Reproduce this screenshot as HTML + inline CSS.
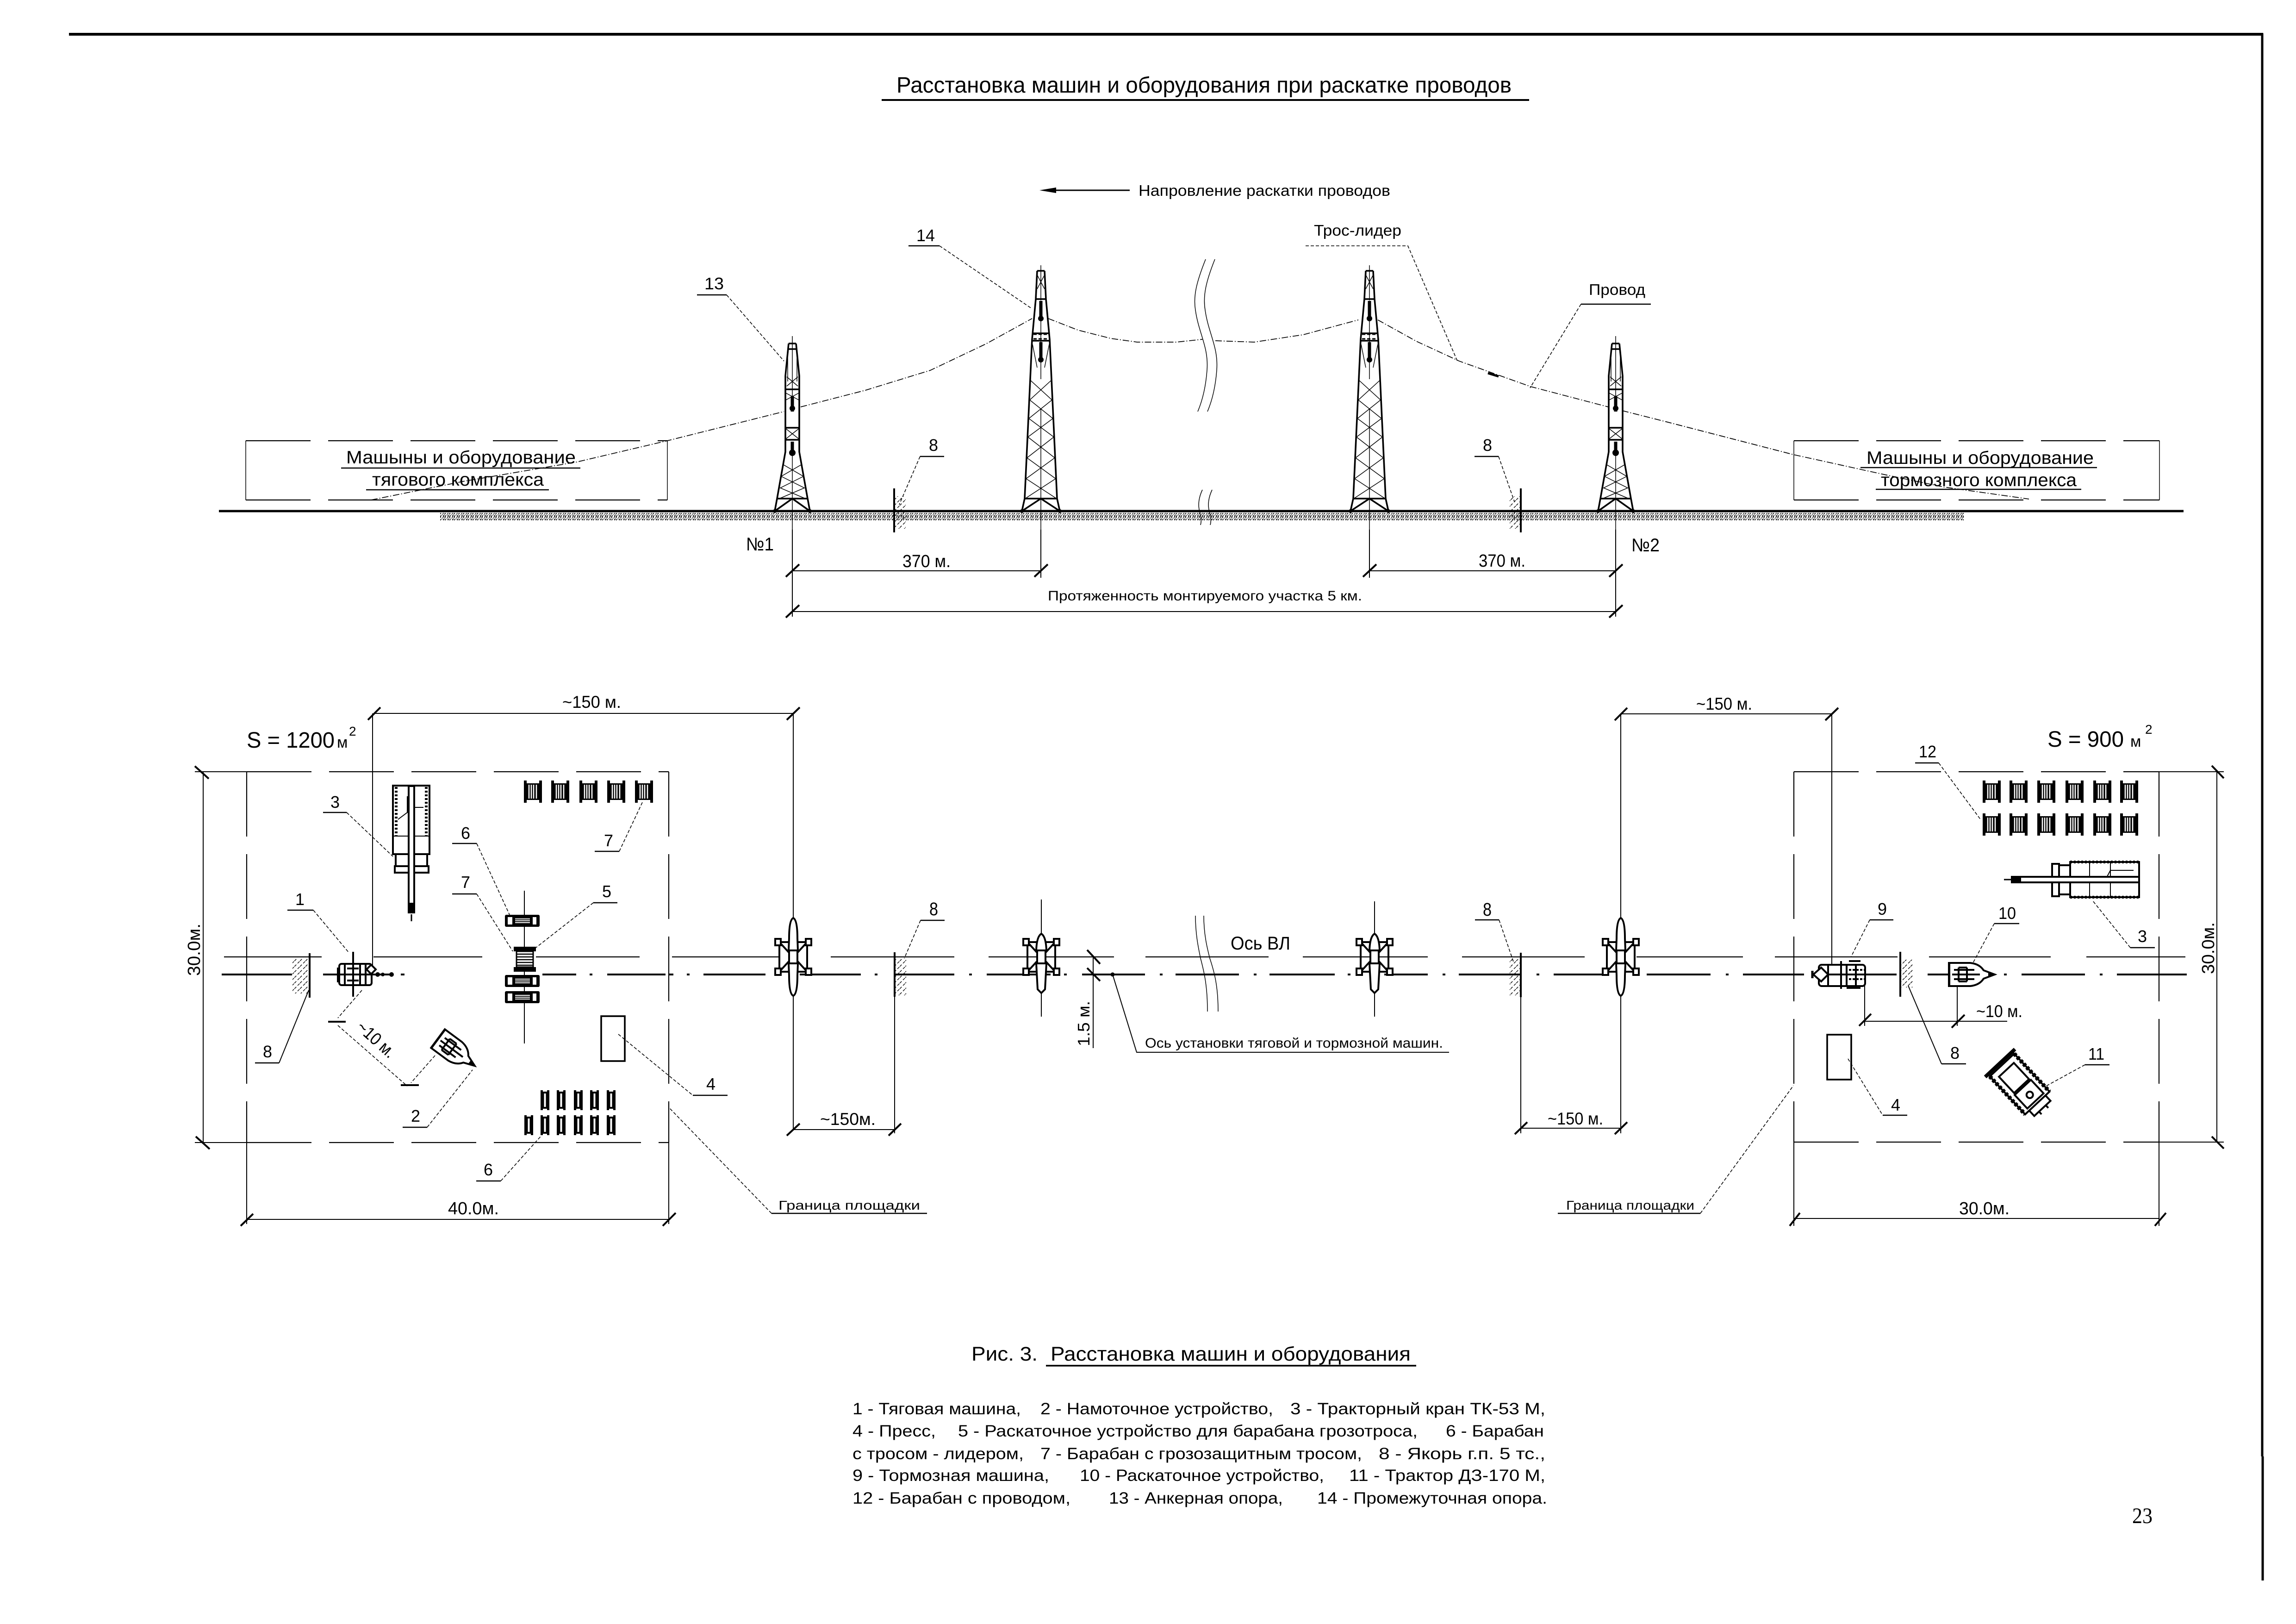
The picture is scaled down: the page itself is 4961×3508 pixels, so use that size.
<!DOCTYPE html>
<html lang="ru"><head><meta charset="utf-8"><title>Расстановка машин и оборудования</title>
<style>
html,body{margin:0;padding:0;background:#fff}
svg{display:block}
text{font-family:"Liberation Sans",sans-serif;fill:#000}
.ld{stroke:#000;stroke-width:1.6;fill:none;stroke-dasharray:7 4}
.u{stroke:#000;stroke-width:2.4;fill:none}
.d{stroke:#000;stroke-width:2;fill:none}
.k{stroke:#000;stroke-width:4;fill:none}
.b{stroke:#000;stroke-width:3.6;fill:none}
.w{stroke:#000;stroke-width:1.7;fill:none;stroke-dasharray:14 4 2 4;stroke-linejoin:round}
.bx{stroke:#000;stroke-width:2.2;fill:none;stroke-dasharray:140 38}
.m{stroke:#000;stroke-width:4;fill:#fff}
.th{stroke:#000;stroke-width:1.5;fill:none}
</style></head><body>
<svg xmlns="http://www.w3.org/2000/svg" width="4961" height="3508" viewBox="0 0 4961 3508">
<defs>
<pattern id="gr" width="10" height="8" patternUnits="userSpaceOnUse"><path d="M0,8 L4,0 M6,8 L10,0 M1,2 L3,6 M7,1 L9,5" stroke="#000" stroke-width="1.2"/></pattern>
<pattern id="ha" width="12" height="12" patternUnits="userSpaceOnUse"><path d="M0,12 L12,0" stroke="#000" stroke-width="1.4" stroke-dasharray="6 4"/></pattern>
<g id="t13">
<path class="b" d="M-8,-362 L-15,-292 L-15,-128 L-33,-27 L-38,0 M8,-362 L15,-292 L15,-128 L33,-27 L38,0 M-8,-362 H8 M-8,-350 H8 M-33,-27 H33 M-38,0 L0,-27 L38,0 M-15,-263 H15 M-15,-180 H15 M-15,-154 H15"/>
<path class="th" d="M0,-378 V-245 M0,-120 V40 M-14,-255 L14,-240 M14,-255 L-14,-240 M-14,-178 L14,-156 M14,-178 L-14,-156 M-15,-128 L-19,-100 L24,-75 L-26,-50 L28,-27 M15,-128 L19,-100 L-24,-75 L26,-50 L-28,-27 M-10,-330 V-280 M10,-330 V-280 M-12,-290 L12,-270 M-12,-270 L12,-290"/>
<path d="M0,-248 V-215 M0,-150 V-120" stroke="#000" stroke-width="7"/><circle cy="-222" r="6"/><circle cy="-126" r="7"/>
<circle cx="-38" r="4"/><circle cx="38" r="4"/>
</g>
<g id="t14">
<path class="b" d="M-8,-519 L-11,-458 L-19,-371 L-35,-27 L-41,0 M8,-519 L11,-458 L19,-371 L35,-27 L41,0 M-8,-519 H8 M-35,-27 H35 M-41,0 L0,-27 L41,0 M-11,-458 H11 M-18,-384 H18 M-19,-368 H19"/>
<path class="th" d="M0,-531 V-455 M0,-415 V-285 M0,-220 V40 M-22,-282 L24,-240 L-26,-200 L28,-160 L-30,-115 L32,-70 L-34,-27 M22,-282 L-24,-240 L26,-200 L-28,-160 L30,-115 L-32,-70 L34,-27 M-8,-510 L8,-480 M8,-510 L-8,-480 M-18,-360 L-8,-310 M18,-360 L8,-310"/>
<path d="M0,-454 V-416 M0,-365 V-327" stroke="#000" stroke-width="7"/><circle cy="-416" r="6"/><circle cy="-327" r="6"/>
<path d="M-16,-382 H16 M-16,-372 H16" stroke="#000" stroke-width="3" stroke-dasharray="7 4"/>
<circle cx="-41" r="4"/><circle cx="41" r="4"/>
</g>
<g id="plan">
<path class="k" d="M-30,-32 V32 M30,-32 V32 M-34,-32 H34 M-34,32 H34 M-30,-32 L-8,-8 M30,-32 L8,-8 M-30,32 L-8,8 M30,32 L8,8"/>
<rect x="-39" y="-39" width="12" height="14" class="m"/><rect x="27" y="-39" width="12" height="14" class="m"/><rect x="-39" y="25" width="12" height="14" class="m"/><rect x="27" y="25" width="12" height="14" class="m"/>
<rect x="-9" y="-14" width="18" height="28" class="m"/>
</g>
<path id="bL" class="m" d="M0,-84 Q9,-80 9,-40 L10,-14 H-10 L-9,-40 Q-9,-80 0,-84 Z M0,84 Q9,80 9,40 L10,14 H-10 L-9,40 Q-9,80 0,84 Z"/>
<path id="bS" class="m" d="M0,-50 Q10,-44 11,-14 H-11 Q-10,-44 0,-50 Z M0,78 L8,70 L11,14 H-11 L-8,70 Z"/>
<g id="sp"><rect width="6" height="48"/><rect x="33" width="6" height="48"/><rect x="6" y="6" width="27" height="36"/><path d="M11,9 V39 M16,9 V39 M21,9 V39 M27,9 V39" stroke="#fff" stroke-width="2.6"/></g>
<g id="sv"><rect width="5" height="43"/><rect x="14" width="5" height="43"/><rect x="5" y="3" width="9" height="37"/><path d="M9.5,7 V36" stroke="#fff" stroke-width="4"/></g>
<g id="sh"><rect width="75" height="26" rx="3"/><rect x="6" y="5" width="10" height="16" fill="#fff"/><rect x="60" y="5" width="8" height="16" fill="#fff"/><path d="M22,9 H54 M22,13 H54 M22,17 H54" stroke="#fff" stroke-width="2"/></g>
<g id="boat">
<path d="M0,-27 V27" stroke="#000" stroke-width="6"/>
<path class="m" d="M0,-25 H45 Q65,-23 74,-9 L98,0 L74,9 Q65,23 45,25 H0 Z"/>
<path d="M84,-5 L98,0 L84,5 Z"/>
<path class="k" d="M6,0 H66 M20,-15 V15 M38,-15 V15 M20,-15 H38 M20,15 H38 M10,-10 L54,-10 M10,10 H54"/>
</g>
</defs>

<rect width="4961" height="3508" fill="#fff"/>
<!-- page frame -->
<path d="M149,74 H4890" stroke="#000" stroke-width="6"/>
<path d="M4888,72 V3146" stroke="#000" stroke-width="5"/>
<path d="M4889,3146 V3414" stroke="#000" stroke-width="5"/>

<text x="1937" y="200" font-size="48" textLength="1329" lengthAdjust="spacingAndGlyphs">Расстановка машин и оборудования при раскатке проводов</text>
<path d="M1905,216 H3304" stroke="#000" stroke-width="4"/>

<!-- direction arrow -->
<path d="M2262,411 H2441" stroke="#000" stroke-width="3"/><path d="M2246,411 L2282,405 V417 Z"/>
<text x="2460" y="423" font-size="33" textLength="544" lengthAdjust="spacingAndGlyphs">Напровление раскатки проводов</text>

<!-- side view boxes -->
<path class="bx" d="M531,952 H1442 M531,1080 H1442"/><path class="th" d="M531,952 V1080 M1442,952 V1080"/>
<path class="bx" d="M3876,952 H4666 M3876,1080 H4666"/><path class="th" d="M3876,952 V1080 M4666,952 V1080"/>
<text x="748" y="1001" font-size="39" textLength="496" lengthAdjust="spacingAndGlyphs">Машыны  и  оборудование</text>
<path class="u" d="M737,1011 H1254"/>
<text x="804" y="1049" font-size="39" textLength="371" lengthAdjust="spacingAndGlyphs">тягового  комплекса</text>
<path class="u" d="M791,1058 H1186"/>
<text x="4033" y="1002" font-size="39" textLength="491" lengthAdjust="spacingAndGlyphs">Машыны  и  оборудование</text>
<path class="u" d="M4020,1010 H4531"/>
<text x="4064" y="1050" font-size="39" textLength="423" lengthAdjust="spacingAndGlyphs">тормозного  комплекса</text>
<path class="u" d="M4053,1057 H4497"/>

<!-- ground -->
<rect x="951" y="1108" width="3292" height="16" fill="url(#gr)"/>
<path d="M473,1104 H4718" stroke="#000" stroke-width="5"/>

<!-- wires -->
<path class="w" d="M802,1080 L1000,1040 L1246,998 L1442,952 L1694,889"/>
<path class="w" d="M1730,879 L1870,843 L2010,800 L2130,743 L2230,688"/>
<path class="w" d="M2265,688 L2329,713 L2400,731 L2457,739 L2542,739 L2598,733"/>
<path class="w" d="M2626,736 L2710,739 L2816,723 L2935,691"/>
<path class="w" d="M2977,691 L3060,737 L3153,780 L3307,835 L3475,879"/>
<path class="w" d="M3505,887 L3600,911 L3875,982 L4071,1025 L4200,1052 L4384,1078"/>
<path d="M3215,806 L3238,813" stroke="#000" stroke-width="5"/>

<!-- towers -->
<use href="#t13" x="1712" y="1104"/>
<use href="#t14" x="2249" y="1104"/>
<use href="#t14" x="2959" y="1104"/>
<use href="#t13" x="3491" y="1104"/>

<!-- break marks -->
<path class="th" d="M2605,560 C2585,610 2578,640 2583,670 C2590,720 2612,750 2608,800 C2605,840 2596,870 2588,889"/>
<path class="th" d="M2625,560 C2605,610 2599,640 2604,670 C2611,720 2633,750 2629,800 C2626,840 2617,870 2609,889"/>
<path class="th" d="M2598,1058 C2590,1075 2588,1090 2592,1105 C2596,1118 2596,1126 2594,1134"/>
<path class="th" d="M2619,1058 C2611,1075 2609,1090 2613,1105 C2617,1118 2617,1126 2615,1134"/>

<!-- anchors side view -->
<rect x="1933" y="1072" width="24" height="70" fill="url(#ha)"/>
<rect x="3262" y="1072" width="24" height="70" fill="url(#ha)"/>
<path class="k" d="M1932,1055 V1150 M3286,1055 V1150"/>

<!-- side labels -->
<text x="1522" y="625" font-size="36" textLength="42" lengthAdjust="spacingAndGlyphs">13</text>
<path class="u" d="M1506,637 H1570"/><path class="ld" d="M1570,637 L1694,780"/>
<text x="1980" y="521" font-size="36" textLength="40" lengthAdjust="spacingAndGlyphs">14</text>
<path class="u" d="M1963,531 H2030"/><path class="ld" d="M2030,531 L2230,667"/>
<text x="2007" y="974" font-size="36">8</text>
<path class="u" d="M1988,986 H2040"/><path class="ld" d="M1988,986 L1943,1090"/>
<text x="3204" y="974" font-size="36">8</text>
<path class="u" d="M3186,986 H3238"/><path class="ld" d="M3238,986 L3272,1083"/>
<text x="2839" y="509" font-size="33" textLength="189" lengthAdjust="spacingAndGlyphs">Трос-лидер</text>
<path class="ld" d="M2821,531 H3042 L3149,780"/>
<text x="3433" y="637" font-size="33" textLength="122" lengthAdjust="spacingAndGlyphs">Провод</text>
<path class="u" d="M3416,657 H3567"/><path class="ld" d="M3416,657 L3306,838"/>
<text x="1612" y="1189" font-size="40" textLength="60" lengthAdjust="spacingAndGlyphs">№1</text>
<text x="3525" y="1191" font-size="40" textLength="61" lengthAdjust="spacingAndGlyphs">№2</text>

<!-- side dims -->
<path class="d" d="M1712,1144 V1332 M2249,1144 V1248 M2959,1144 V1248 M3491,1144 V1332"/>
<path class="d" d="M1712,1233 H2249 M2959,1233 H3491 M1712,1321 H3491"/>
<path class="k" d="M1698,1246 L1727,1219 M2235,1246 L2264,1219 M2945,1246 L2974,1219 M3477,1246 L3506,1219 M1698,1334 L1727,1307 M3477,1334 L3506,1307"/>
<text x="1950" y="1225" font-size="38" textLength="104" lengthAdjust="spacingAndGlyphs">370 м.</text>
<text x="3195" y="1224" font-size="38" textLength="101" lengthAdjust="spacingAndGlyphs">370 м.</text>
<text x="2264" y="1297" font-size="30" textLength="679" lengthAdjust="spacingAndGlyphs">Протяженность  монтируемого  участка  5  км.</text>

<!-- axis lines -->
<path stroke="#000" stroke-width="2.2" fill="none" d="M484,2067 H695 M807,2067 H1042 M1158,2067 H1382 M1452,2067 H1683 M1795,2067 H2062 M2136,2067 H2407 M2475,2067 H2741 M2815,2067 H3085 M3159,2067 H3424 M3536,2067 H3766 M3835,2067 H4100 M4168,2067 H4431 M4508,2067 H4722"/>
<path stroke="#000" stroke-width="4" fill="none" d="M479,2105 H631 M698,2105 H849 M866,2105 H874 M1172,2105 H1245 M1274,2105 H1280 M1312,2105 H1438 M1445,2105 H1455 M1484,2105 H1490 M1520,2105 H1654 M1728,2105 H1860 M1890,2105 H1896 M1932,2105 H2062 M2094,2105 H2100 M2132,2105 H2270 M2299,2105 H2305 M2338,2105 H2474 M2506,2105 H2512 M2540,2105 H2677 M2709,2105 H2715 M2743,2105 H2884 M2912,2105 H2918 M2991,2105 H3085 M3117,2105 H3123 M3152,2105 H3286 M3320,2105 H3326 M3357,2105 H3473 M3558,2105 H3696 M3729,2105 H3735 M3766,2105 H3898 M4035,2105 H4098 M4165,2105 H4214 M4330,2105 H4336 M4368,2105 H4505 M4537,2105 H4543 M4574,2105 H4725"/>

<!-- plan towers -->
<path class="d" d="M1714,1541 V2440 M3502,1542 V2448 M2250,1943 V2196 M2970,1947 V2196"/>
<use href="#plan" x="1714" y="2067"/><use href="#bL" x="1714" y="2067"/>
<use href="#plan" x="2250" y="2067"/><use href="#bS" x="2250" y="2067"/>
<use href="#plan" x="2970" y="2067"/><use href="#bS" x="2970" y="2067"/>
<use href="#plan" x="3502" y="2067"/><use href="#bL" x="3502" y="2067"/>

<!-- plan break -->
<path class="th" d="M2583,1978 C2583,2020 2590,2050 2594,2070 C2602,2100 2609,2130 2609,2185"/>
<path class="th" d="M2601,1978 C2601,2020 2609,2050 2614,2070 C2624,2100 2632,2130 2632,2185"/>
<text x="2659" y="2051" font-size="40" textLength="129" lengthAdjust="spacingAndGlyphs">Ось ВЛ</text>

<!-- plan anchors -->
<rect x="1934" y="2072" width="24" height="78" fill="url(#ha)"/>
<rect x="3262" y="2072" width="24" height="78" fill="url(#ha)"/>
<path class="k" d="M1933,2057 V2153 M3286,2058 V2154"/>
<path class="d" d="M1933,2153 V2448 M3286,2154 V2448"/>
<text x="2008" y="1977" font-size="40" textLength="19" lengthAdjust="spacingAndGlyphs">8</text><path class="u" d="M1989,1988 H2041"/><path class="ld" d="M1989,1988 L1954,2070"/>
<text x="3204" y="1978" font-size="40" textLength="19" lengthAdjust="spacingAndGlyphs">8</text><path class="u" d="M3187,1987 H3239"/><path class="ld" d="M3239,1987 L3270,2077"/>

<!-- 1.5 m -->
<path class="d" d="M2362,2067 V2264"/>
<path class="k" d="M2349,2052 L2377,2082 M2349,2091 L2377,2119"/>
<text transform="translate(2354,2260) rotate(-90)" font-size="36" textLength="98" lengthAdjust="spacingAndGlyphs">1.5  м.</text>
<circle cx="2404" cy="2105" r="4.5"/>
<path class="d" d="M2404,2105 L2456,2273 H3131"/>
<text x="2474" y="2263" font-size="30" textLength="644" lengthAdjust="spacingAndGlyphs">Ось установки тяговой и тормозной машин.</text>

<!-- ~150 dims -->
<path class="d" d="M805,1541 V2087 M807,1541 H1714 M1714,2440 H1933 M3286,2437 H3502 M3502,1542 H3958 M3958,1542 V2090"/>
<path class="k" d="M795,1555 L822,1528 M1700,1555 L1728,1528 M1700,2453 L1728,2427 M1920,2453 L1947,2427 M3273,2450 L3300,2424 M3489,2450 L3516,2424 M3489,1556 L3516,1529 M3944,1556 L3972,1529"/>
<text x="1215" y="1529" font-size="37" textLength="127" lengthAdjust="spacingAndGlyphs">~150 м.</text>
<text x="1772" y="2430" font-size="37" textLength="120" lengthAdjust="spacingAndGlyphs">~150м.</text>
<text x="3344" y="2429" font-size="37" textLength="120" lengthAdjust="spacingAndGlyphs">~150 м.</text>
<text x="3665" y="1533" font-size="37" textLength="121" lengthAdjust="spacingAndGlyphs">~150 м.</text>

<!-- LEFT SITE -->
<text x="533" y="1615" font-size="48" textLength="190" lengthAdjust="spacingAndGlyphs">S = 1200</text>
<text x="728" y="1615" font-size="34">м</text>
<text x="754" y="1589" font-size="28">2</text>
<path class="bx" d="M533,1667 H1445 M533,2468 H1445 M533,1667 V2468 M1445,1667 V2468"/>
<path class="d" d="M421,1667 H533 M421,2468 H533 M439,1667 V2468 M533,2468 V2644 M1445,2468 V2644 M533,2634 H1445"/>
<path class="k" d="M421,1655 L451,1682 M423,2455 L453,2482 M520,2648 L547,2622 M1432,2648 L1460,2620"/>
<text transform="translate(432,2108) rotate(-90)" font-size="38" textLength="113" lengthAdjust="spacingAndGlyphs">30.0м.</text>
<text x="968" y="2623" font-size="38" textLength="110" lengthAdjust="spacingAndGlyphs">40.0м.</text>

<!-- left crane -->
<g>
<rect x="849" y="1697" width="79" height="148" class="m"/>
<rect x="855" y="1845" width="68" height="26" class="m"/>
<rect x="853" y="1871" width="73" height="14" class="m"/>
<path class="d" d="M849,1806 H928 M889,1697 V1845"/>
<path d="M856,1700 V1806 M921,1700 V1806" stroke="#000" stroke-width="6" stroke-dasharray="4 4"/>
<path class="d" d="M860,1770 L880,1755 V1720 M889,1744 H915"/>
<rect x="883" y="1698" width="12" height="273" class="m" stroke-width="3"/>
<path d="M889,1975 V1990" stroke="#000" stroke-width="3"/>
<rect x="884" y="1950" width="10" height="20" fill="#000"/>
</g>
<text x="714" y="1745" font-size="36">3</text><path class="u" d="M698,1755 H749"/><path class="ld" d="M749,1755 L849,1850"/>

<use href="#sp" x="1132" y="1686"/><use href="#sp" x="1191" y="1686"/><use href="#sp" x="1252" y="1686"/><use href="#sp" x="1312" y="1686"/><use href="#sp" x="1372" y="1686"/>
<text x="1305" y="1828" font-size="36">7</text><path class="u" d="M1285,1839 H1338"/><path class="ld" d="M1338,1839 L1389,1731"/>
<text x="996" y="1812" font-size="36">6</text><path class="u" d="M977,1822 H1030"/><path class="ld" d="M1030,1822 L1101,1976"/>
<text x="996" y="1918" font-size="36">7</text><path class="u" d="M977,1931 H1030"/><path class="ld" d="M1030,1931 L1108,2055"/>
<text x="1301" y="1938" font-size="36">5</text><path class="u" d="M1282,1950 H1334"/><path class="ld" d="M1282,1950 L1158,2047"/>

<path class="d" d="M1133,1924 V2254"/>
<use href="#sh" x="1091" y="1976"/><use href="#sh" x="1091" y="2106"/><use href="#sh" x="1091" y="2141"/>
<rect x="1110" y="2045" width="48" height="10"/><rect x="1110" y="2089" width="48" height="10"/>
<rect x="1116" y="2055" width="36" height="34" fill="#fff" stroke="#000" stroke-width="3"/>
<path d="M1116,2061 H1152 M1116,2067 H1152 M1116,2073 H1152 M1116,2079 H1152 M1116,2085 H1152" stroke="#000" stroke-width="2.6"/>

<!-- traction machine -->
<g>
<rect x="733" y="2082" width="70" height="46" class="m" rx="5"/>
<path class="k" d="M745,2082 V2128 M763,2056 V2153 M778,2082 V2128 M733,2105 H803 M750,2092 H775 M750,2118 H775 M790,2082 V2128"/>
<rect x="728" y="2090" width="6" height="32"/>
<path class="m" d="M802,2084 L812,2094 L802,2104 L792,2094 Z"/>
<path d="M803,2105 H849" stroke="#000" stroke-width="4"/><circle cx="816" cy="2105" r="5"/><circle cx="827" cy="2105" r="4"/><circle cx="846" cy="2105" r="5"/>
</g>
<text x="638" y="1955" font-size="36">1</text><path class="u" d="M621,1966 H677"/><path class="ld" d="M677,1966 L754,2058"/>
<path class="k" d="M669,2059 V2155"/>
<rect x="632" y="2069" width="37" height="77" fill="url(#ha)"/>
<text x="568" y="2284" font-size="36">8</text><path class="u" d="M551,2296 H603"/><path class="d" d="M603,2296 L667,2139"/>

<!-- ~10m left -->
<path class="ld" d="M782,2139 L730,2199"/><path class="ld" d="M940,2280 L888,2339"/>
<path class="ld" d="M730,2215 L880,2346"/>
<path d="M709,2207 H747 M866,2344 H905" stroke="#000" stroke-width="4"/>
<text transform="translate(768,2222) rotate(42)" font-size="38" textLength="98" lengthAdjust="spacingAndGlyphs">~10 м.</text>
<use href="#boat" transform="translate(947,2244) rotate(36.5)"/>
<text x="888" y="2423" font-size="36">2</text><path class="u" d="M870,2435 H923"/><path class="ld" d="M923,2435 L1021,2311"/>

<!-- press left -->
<rect x="1299" y="2195" width="51" height="97" class="b" fill="#fff"/>
<path class="ld" d="M1336,2234 L1497,2366"/>
<path class="u" d="M1497,2366 H1572"/><text x="1526" y="2354" font-size="36">4</text>

<!-- drums 6 -->
<use href="#sv" x="1168" y="2355"/><use href="#sv" x="1203" y="2355"/><use href="#sv" x="1240" y="2355"/><use href="#sv" x="1275" y="2355"/><use href="#sv" x="1311" y="2355"/>
<use href="#sv" x="1133" y="2409"/><use href="#sv" x="1168" y="2409"/><use href="#sv" x="1203" y="2409"/><use href="#sv" x="1240" y="2409"/><use href="#sv" x="1275" y="2409"/><use href="#sv" x="1311" y="2409"/>
<text x="1045" y="2539" font-size="36">6</text><path class="u" d="M1029,2551 H1082"/><path class="ld" d="M1082,2551 L1168,2455"/>

<!-- border labels -->
<text x="1682" y="2613" font-size="28" textLength="306" lengthAdjust="spacingAndGlyphs">Граница площадки</text>
<path class="u" d="M1667,2621 H2003"/><path class="ld" d="M1667,2621 L1445,2392"/>
<text x="3384" y="2613" font-size="28" textLength="277" lengthAdjust="spacingAndGlyphs">Граница площадки</text>
<path class="u" d="M3366,2621 H3674"/><path class="ld" d="M3674,2621 L3875,2345"/>

<!-- RIGHT SITE -->
<text x="4424" y="1613" font-size="48" textLength="165" lengthAdjust="spacingAndGlyphs">S = 900</text>
<text x="4603" y="1613" font-size="34">м</text>
<text x="4635" y="1585" font-size="28">2</text>
<path class="bx" d="M3876,1667 H4665 M3876,2467 H4665 M3876,1667 V2467 M4665,1667 V2467"/>
<path class="d" d="M4665,1667 H4805 M4665,2467 H4805 M4790,1667 V2467 M3876,2467 V2648 M4665,2467 V2648 M3876,2632 H4665"/>
<path class="k" d="M4779,1654 L4805,1681 M4779,2455 L4805,2481 M3867,2648 L3889,2620 M4656,2648 L4680,2620"/>
<text transform="translate(4784,2104) rotate(-90)" font-size="38" textLength="112" lengthAdjust="spacingAndGlyphs">30.0м.</text>
<text x="4233" y="2623" font-size="38" textLength="109" lengthAdjust="spacingAndGlyphs">30.0м.</text>

<text x="4146" y="1636" font-size="36" textLength="38" lengthAdjust="spacingAndGlyphs">12</text>
<path class="u" d="M4138,1648 H4189"/><path class="ld" d="M4189,1648 L4280,1771"/>
<use href="#sp" x="4284" y="1686"/><use href="#sp" x="4342" y="1686"/><use href="#sp" x="4402" y="1686"/><use href="#sp" x="4463" y="1686"/><use href="#sp" x="4523" y="1686"/><use href="#sp" x="4581" y="1686"/>
<use href="#sp" x="4284" y="1757"/><use href="#sp" x="4342" y="1757"/><use href="#sp" x="4402" y="1757"/><use href="#sp" x="4463" y="1757"/><use href="#sp" x="4523" y="1757"/><use href="#sp" x="4581" y="1757"/>

<!-- right crane -->
<g>
<rect x="4473" y="1862" width="149" height="76" class="m"/>
<rect x="4449" y="1869" width="24" height="63" class="m"/>
<rect x="4434" y="1866" width="15" height="70" class="m"/>
<path class="d" d="M4515,1862 V1938 M4560,1862 V1938"/>
<path d="M4473,1862 H4622 M4473,1938 H4622" stroke="#000" stroke-width="6" stroke-dasharray="4 4"/>
<path class="d" d="M4552,1895 L4560,1880 H4610"/>
<rect x="4347" y="1894" width="275" height="12" class="m" stroke-width="3"/>
<rect x="4347" y="1895" width="20" height="10" fill="#000"/>
<path d="M4330,1900 H4347" stroke="#000" stroke-width="3"/>
</g>
<text x="4619" y="2035" font-size="36">3</text><path class="u" d="M4603,2047 H4656"/><path class="ld" d="M4603,2047 L4522,1946"/>

<!-- brake machine -->
<g>
<rect x="3930" y="2084" width="100" height="46" class="m" rx="6"/>
<path class="k" d="M3950,2084 V2130 M3978,2076 V2136 M3990,2084 V2130 M4010,2084 V2130 M3930,2105 H4035 M3995,2076 H4020 M3990,2134 H4020"/>
<path class="m" d="M3918,2105 L3935,2090 L3950,2105 L3935,2120 Z"/>
<path d="M3916,2097 V2113" stroke="#000" stroke-width="5"/>
<path d="M3995,2095 H4030 M3995,2115 H4030" stroke="#000" stroke-width="4" stroke-dasharray="5 3"/>
</g>
<text x="4057" y="1976" font-size="36">9</text><path class="u" d="M4040,1987 H4091"/><path class="ld" d="M4040,1987 L4000,2066"/>
<path class="k" d="M4106,2056 V2153"/>
<rect x="4107" y="2073" width="26" height="60" fill="url(#ha)"/>
<text x="4214" y="2287" font-size="36">8</text><path class="u" d="M4195,2298 H4248"/><path class="d" d="M4195,2298 L4123,2129"/>

<use href="#boat" transform="translate(4212,2105)"/>
<text x="4318" y="1985" font-size="36" textLength="38" lengthAdjust="spacingAndGlyphs">10</text>
<path class="u" d="M4309,1995 H4363"/><path class="ld" d="M4309,1995 L4263,2080"/>

<path class="d" d="M4029,2129 V2216 M4229,2130 V2216 M4029,2206 H4337"/>
<path class="k" d="M4017,2216 L4043,2190 M4217,2220 L4245,2192"/>
<text x="4270" y="2197" font-size="37" textLength="100" lengthAdjust="spacingAndGlyphs">~10 м.</text>

<rect x="3948" y="2235" width="52" height="97" class="b" fill="#fff"/>
<text x="4086" y="2399" font-size="36">4</text><path class="u" d="M4068,2409 H4121"/><path class="ld" d="M3993,2287 L4068,2409"/>

<!-- tractor -->
<g transform="translate(4368,2346) rotate(47)">
<rect x="-62" y="-36" width="112" height="72" class="m"/>
<rect x="-72" y="-44" width="8" height="88"/>
<path d="M-62,-36 H50 M-62,36 H50" stroke="#000" stroke-width="9" stroke-dasharray="6 4"/>
<rect x="-48" y="-22" width="48" height="44" class="m"/>
<rect x="4" y="-24" width="40" height="48" class="m"/>
<circle cx="26" r="7" fill="#fff" stroke="#000" stroke-width="4"/>
<path class="k" d="M50,-24 H66 V24 H50 M66,-10 H74 M66,10 H74"/>
</g>
<text x="4512" y="2289" font-size="36" textLength="35" lengthAdjust="spacingAndGlyphs">11</text>
<path class="u" d="M4505,2300 H4558"/><path class="ld" d="M4505,2300 L4421,2346"/>

<!-- caption -->
<text x="2099" y="2939" font-size="43" textLength="143" lengthAdjust="spacingAndGlyphs">Рис. 3.</text>
<text x="2270" y="2939" font-size="43" textLength="778" lengthAdjust="spacingAndGlyphs">Расстановка  машин  и  оборудования</text>
<path d="M2260,2950 H3060" stroke="#000" stroke-width="3.5"/>

<g font-size="35">
<text x="1842" y="3055" textLength="364" lengthAdjust="spacingAndGlyphs">1 - Тяговая машина,</text>
<text x="2248" y="3055" textLength="503" lengthAdjust="spacingAndGlyphs">2 - Намоточное устройство,</text>
<text x="2788" y="3055" textLength="551" lengthAdjust="spacingAndGlyphs">3 - Тракторный кран  ТК-53 М,</text>
<text x="1842" y="3103" textLength="180" lengthAdjust="spacingAndGlyphs">4 - Пресс,</text>
<text x="2070" y="3103" textLength="993" lengthAdjust="spacingAndGlyphs">5 - Раскаточное устройство для барабана грозотроса,</text>
<text x="3124" y="3103" textLength="212" lengthAdjust="spacingAndGlyphs">6 - Барабан</text>
<text x="1842" y="3152" textLength="370" lengthAdjust="spacingAndGlyphs">с тросом - лидером,</text>
<text x="2248" y="3152" textLength="695" lengthAdjust="spacingAndGlyphs">7 - Барабан с грозозащитным тросом,</text>
<text x="2979" y="3152" textLength="360" lengthAdjust="spacingAndGlyphs">8 - Якорь  г.п.  5 тс.,</text>
<text x="1842" y="3199" textLength="425" lengthAdjust="spacingAndGlyphs">9 - Тормозная машина,</text>
<text x="2333" y="3199" textLength="528" lengthAdjust="spacingAndGlyphs">10 - Раскаточное устройство,</text>
<text x="2915" y="3199" textLength="424" lengthAdjust="spacingAndGlyphs">11 - Трактор  ДЗ-170 М,</text>
<text x="1842" y="3248" textLength="471" lengthAdjust="spacingAndGlyphs">12 - Барабан с проводом,</text>
<text x="2396" y="3248" textLength="376" lengthAdjust="spacingAndGlyphs">13 - Анкерная опора,</text>
<text x="2846" y="3248" textLength="497" lengthAdjust="spacingAndGlyphs">14 - Промежуточная опора.</text>
</g>

<text x="4607" y="3290" font-size="48" textLength="44" lengthAdjust="spacingAndGlyphs" style="font-family:'Liberation Serif',serif">23</text>
</svg>
</body></html>
